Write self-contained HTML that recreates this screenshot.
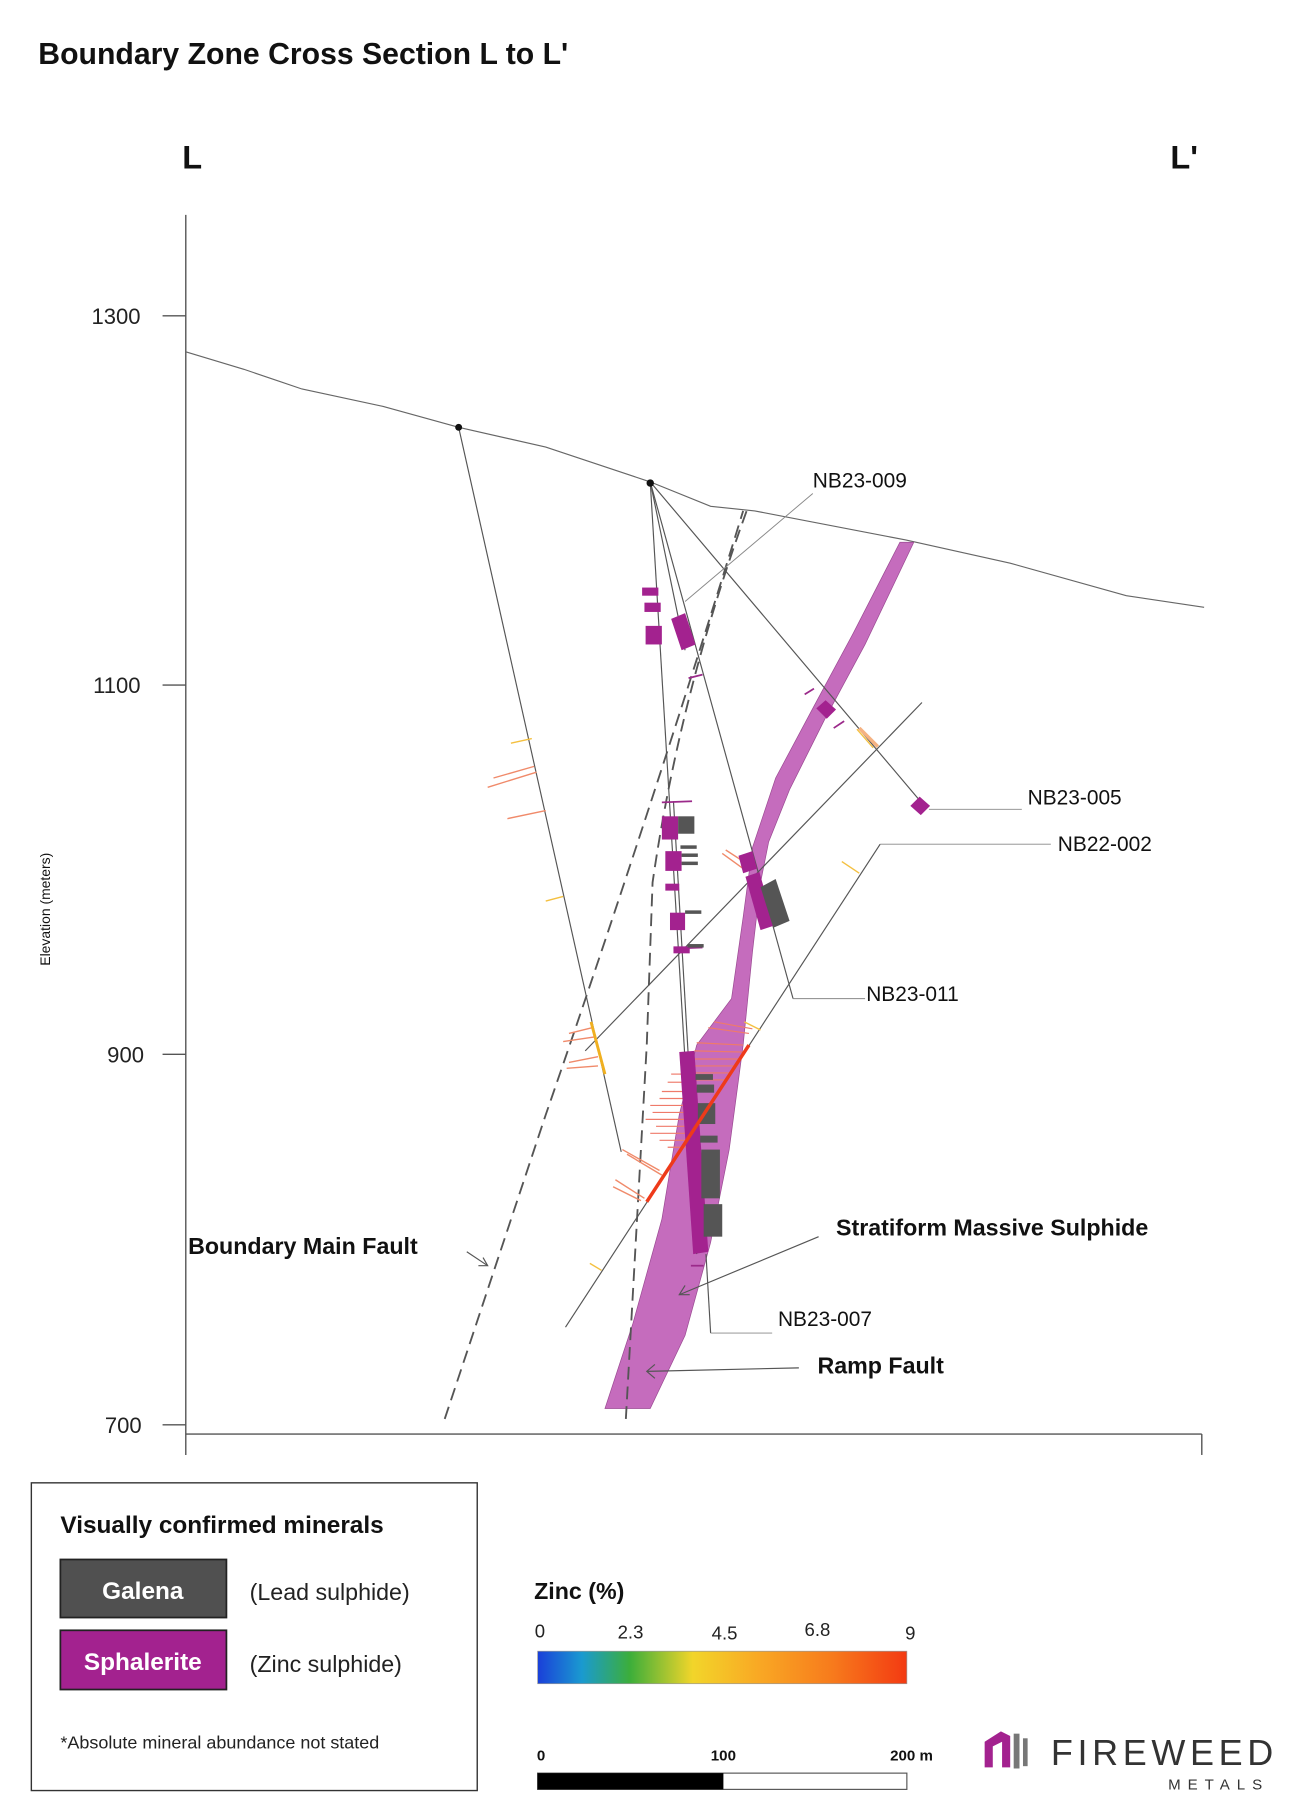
<!DOCTYPE html>
<html><head><meta charset="utf-8"><style>
html,body{margin:0;padding:0;background:#fff;}
svg{display:block;}
text{font-family:"Liberation Sans",sans-serif;}
</style></head><body>
<svg width="1302" height="1819" viewBox="0 0 1121.3 1566.5" preserveAspectRatio="none" xmlns="http://www.w3.org/2000/svg">
<defs>
<linearGradient id="zn" x1="0" x2="1" y1="0" y2="0">
<stop offset="0" stop-color="#1a3fd9"/><stop offset="0.12" stop-color="#1a9ad0"/><stop offset="0.25" stop-color="#3cae3a"/><stop offset="0.42" stop-color="#f2d52a"/><stop offset="0.6" stop-color="#f9a824"/><stop offset="0.8" stop-color="#f77a1c"/><stop offset="1" stop-color="#f33a12"/>
</linearGradient>
</defs>
<rect width="1130.3" height="1579" fill="#fff"/>
<text x="33" y="55" font-size="26" font-weight="bold" fill="#111">Boundary Zone Cross Section L to L'</text>
<text x="157" y="145" font-size="28" font-weight="bold" fill="#111">L</text>
<text x="1008" y="145" font-size="28" font-weight="bold" fill="#111">L'</text>

<g stroke="#555" stroke-width="1.2" fill="none">
<line x1="160" y1="185" x2="160" y2="1253"/>
<line x1="160" y1="1235" x2="1035" y2="1235"/>
<line x1="1035" y1="1235" x2="1035" y2="1253"/>
<line x1="140" y1="272" x2="160" y2="272"/>
<line x1="140" y1="590" x2="160" y2="590"/>
<line x1="140" y1="908" x2="160" y2="908"/>
<line x1="140" y1="1227" x2="160" y2="1227"/>
</g>
<g font-size="19" fill="#222" text-anchor="end">
<text x="121" y="279">1300</text><text x="121" y="597">1100</text><text x="124" y="915">900</text><text x="122" y="1234">700</text>
</g>
<text transform="translate(43,783) rotate(-90)" font-size="12" text-anchor="middle" fill="#111">Elevation (meters)</text>

<polyline fill="none" stroke="#666" stroke-width="1" points="160,303 210,318 260,335 330,350 395,368 470,385 560,415 612,436 650,440 780,465 870,485 970,513 1037,523"/>

<path d="M775,467 L787,467 L745,555 L710,620 L680,680 L662,725 L655,760 L648,820 L640,900 L628,990 L612,1070 L590,1150 L560,1213 L521,1213 L545,1140 L570,1050 L585,960 L600,900 L630,860 L640,790 L648,730 L668,670 L700,610 L735,545 Z" fill="#c56cbd" stroke="#9a4a92" stroke-width="0.6"/>

<g fill="none" stroke="#555" stroke-width="1.6" stroke-dasharray="11,6">
<path d="M383,1222 L470,960 Q560,700 640,440"/>
<path d="M539,1222 L557,900 L562,760 Q585,600 643,440"/>
</g>

<g stroke="#555" stroke-width="1" fill="none">
<polyline points="395,368 535,992"/>
<line x1="560" y1="415" x2="600" y2="1080"/>
<line x1="560" y1="415" x2="683" y2="860"/>
<line x1="560" y1="415" x2="796" y2="694"/>
<line x1="560" y1="415" x2="590" y2="560"/>
<line x1="487" y1="1143" x2="758" y2="727"/>
<line x1="504" y1="905" x2="794" y2="605"/>
<line x1="580" y1="690" x2="598" y2="1000"/>
<line x1="608" y1="1080" x2="612" y2="1148"/>
</g>
<g stroke="#888" stroke-width="0.8" fill="none">
<polyline points="590,518 700,425"/>
<polyline points="800,697 880,697"/>
<polyline points="758,727 905,727"/>
<polyline points="683,860 745,860"/>
<polyline points="612,1148 665,1148"/>
</g>
<circle cx="395" cy="368" r="3" fill="#111"/>
<circle cx="560" cy="416" r="3.2" fill="#111"/>

<g stroke-width="1.2" fill="none">
<g stroke="#f08a6a">
<line x1="420" y1="678" x2="462" y2="665"/><line x1="425" y1="670" x2="460" y2="660"/><line x1="437" y1="705" x2="470" y2="698"/>
<line x1="490" y1="890" x2="510" y2="885"/><line x1="485" y1="897" x2="512" y2="893"/><line x1="490" y1="915" x2="515" y2="910"/><line x1="488" y1="920" x2="515" y2="918"/>
<line x1="536" y1="990" x2="568" y2="1008"/><line x1="540" y1="994" x2="570" y2="1012"/><line x1="530" y1="1016" x2="555" y2="1032"/><line x1="528" y1="1022" x2="552" y2="1034"/>
<line x1="622" y1="735" x2="640" y2="748"/><line x1="625" y1="732" x2="645" y2="745"/>
</g>
<g stroke="#f4c040"><line x1="440" y1="640" x2="458" y2="636"/><line x1="470" y1="776" x2="485" y2="772"/><line x1="738" y1="628" x2="752" y2="644"/><line x1="725" y1="742" x2="740" y2="752"/><line x1="641" y1="880" x2="655" y2="887"/><line x1="508" y1="1088" x2="518" y2="1094"/></g>
<g stroke="#f5b282" stroke-width="3"><line x1="740" y1="627" x2="756" y2="643"/></g>
<g stroke="#f0b020" stroke-width="2.5"><line x1="509" y1="880" x2="521" y2="925"/></g>
<g stroke="#ef7a6a" stroke-width="1">
<line x1="600" y1="898" x2="640" y2="900"/><line x1="598" y1="905" x2="640" y2="906"/><line x1="598" y1="912" x2="636" y2="912"/><line x1="598" y1="918" x2="632" y2="918"/><line x1="598" y1="924" x2="628" y2="924"/><line x1="598" y1="930" x2="625" y2="930"/>
<line x1="578" y1="925" x2="588" y2="925"/><line x1="575" y1="932" x2="588" y2="932"/><line x1="570" y1="940" x2="590" y2="940"/><line x1="568" y1="946" x2="590" y2="946"/><line x1="560" y1="952" x2="592" y2="952"/><line x1="562" y1="958" x2="592" y2="958"/><line x1="556" y1="964" x2="594" y2="964"/><line x1="565" y1="970" x2="594" y2="970"/><line x1="560" y1="976" x2="594" y2="976"/><line x1="568" y1="982" x2="596" y2="982"/><line x1="575" y1="988" x2="596" y2="988"/>
<line x1="610" y1="885" x2="645" y2="890"/><line x1="615" y1="880" x2="648" y2="886"/>
</g>
<g stroke="#9b2a8a" stroke-width="1.5"><line x1="570" y1="691" x2="596" y2="690"/><line x1="593" y1="584" x2="605" y2="581"/><line x1="693" y1="598" x2="701" y2="593"/><line x1="718" y1="627" x2="727" y2="621"/><line x1="580" y1="817" x2="605" y2="816"/><line x1="595" y1="1090" x2="606" y2="1090"/></g>
</g>

<g fill="#a3228f">
<rect x="553" y="506" width="14" height="7"/><rect x="555" y="519" width="14" height="8"/><rect x="556" y="539" width="14" height="16"/>
<polygon points="578,533 590,528 599,555 587,560"/>
<rect x="570" y="703" width="14" height="20"/><rect x="573" y="733" width="14" height="17"/><rect x="573" y="761" width="12" height="6"/><rect x="577" y="786" width="13" height="15"/><rect x="580" y="815" width="14" height="6"/>
<polygon points="636,737 648,733 652,748 640,752"/>
<polygon points="642,755 654,751 667,797 655,801"/>
<polygon points="585,906 598,905 610,1078 597,1080"/>
<polygon points="703,610 711,603 720,611 712,619"/>
<polygon points="784,694 792,686 801,694 793,702"/>
</g>
<g fill="#555">
<rect x="584" y="703" width="14" height="15"/><rect x="586" y="728" width="14" height="3"/><rect x="587" y="735" width="14" height="3"/><rect x="587" y="742" width="14" height="3"/><rect x="590" y="784" width="14" height="3"/><rect x="592" y="813" width="14" height="3"/>
<polygon points="655,764 668,757 680,793 666,799"/>
<rect x="599" y="925" width="15" height="5"/><rect x="600" y="934" width="15" height="7"/><rect x="601" y="950" width="15" height="18"/><rect x="603" y="978" width="15" height="6"/><rect x="604" y="990" width="16" height="42"/><rect x="606" y="1037" width="16" height="28"/>
</g>
<line x1="557" y1="1035" x2="645" y2="900" stroke="#ee3a1a" stroke-width="3"/>

<g font-size="18" fill="#111">
<text x="700" y="420">NB23-009</text>
<text x="885" y="693">NB23-005</text>
<text x="911" y="733">NB22-002</text>
<text x="746" y="862">NB23-011</text>
<text x="670" y="1142">NB23-007</text>
</g>
<g font-size="20" font-weight="bold" fill="#111">
<text x="162" y="1080">Boundary Main Fault</text>
<text x="720" y="1064">Stratiform Massive Sulphide</text>
<text x="704" y="1183">Ramp Fault</text>
</g>
<g stroke="#555" stroke-width="1" fill="none">
<line x1="402" y1="1078" x2="420" y2="1090"/><polyline points="412,1090 420,1090 416,1083"/>
<line x1="705" y1="1065" x2="585" y2="1115"/><polyline points="594,1115 585,1115 590,1107"/>
<line x1="688" y1="1178" x2="557" y2="1181"/><polyline points="564,1175 557,1181 564,1187"/>
</g>

<rect x="27" y="1277" width="384" height="265" fill="none" stroke="#333" stroke-width="1.2"/>
<text x="52" y="1320" font-size="21" font-weight="bold" fill="#111">Visually confirmed minerals</text>
<rect x="52" y="1343" width="143" height="50" fill="#505050" stroke="#222" stroke-width="1.5"/>
<text x="123" y="1377" font-size="21" font-weight="bold" fill="#fff" text-anchor="middle">Galena</text>
<text x="215" y="1378" font-size="20" fill="#222">(Lead sulphide)</text>
<rect x="52" y="1404" width="143" height="51" fill="#a3228f" stroke="#222" stroke-width="1.5"/>
<text x="123" y="1438" font-size="21" font-weight="bold" fill="#fff" text-anchor="middle">Sphalerite</text>
<text x="215" y="1440" font-size="20" fill="#222">(Zinc sulphide)</text>
<text x="52" y="1506" font-size="15.5" fill="#222">*Absolute mineral abundance not stated</text>

<text x="460" y="1377" font-size="20" font-weight="bold" fill="#111">Zinc (%)</text>
<g font-size="16" fill="#222" text-anchor="middle">
<text x="465" y="1410">0</text><text x="543" y="1411">2.3</text><text x="624" y="1412">4.5</text><text x="704" y="1409">6.8</text><text x="784" y="1412">9</text>
</g>
<rect x="463" y="1422" width="318" height="28" fill="url(#zn)" stroke="#999" stroke-width="0.6"/>

<g font-size="13" font-weight="bold" fill="#111" text-anchor="middle">
<text x="466" y="1516">0</text><text x="623" y="1516">100</text><text x="785" y="1516">200 m</text>
</g>
<rect x="463" y="1527" width="318" height="14" fill="#fff" stroke="#555" stroke-width="1"/>
<rect x="463" y="1527" width="160" height="14" fill="#000"/>

<g>
<path d="M848,1500 L862,1491 L870,1495 L870,1522 L863,1522 L863,1500 L855,1504 L855,1522 L848,1522 Z" fill="#a3228f"/>
<rect x="873" y="1493" width="5" height="30" fill="#777"/><rect x="881" y="1497" width="4" height="24" fill="#777"/>
</g>
<text x="905" y="1520" font-size="31" fill="#333" letter-spacing="4">FIREWEED</text>
<text x="1006" y="1541" font-size="13" fill="#333" letter-spacing="6">METALS</text>
</svg>
</body></html>
